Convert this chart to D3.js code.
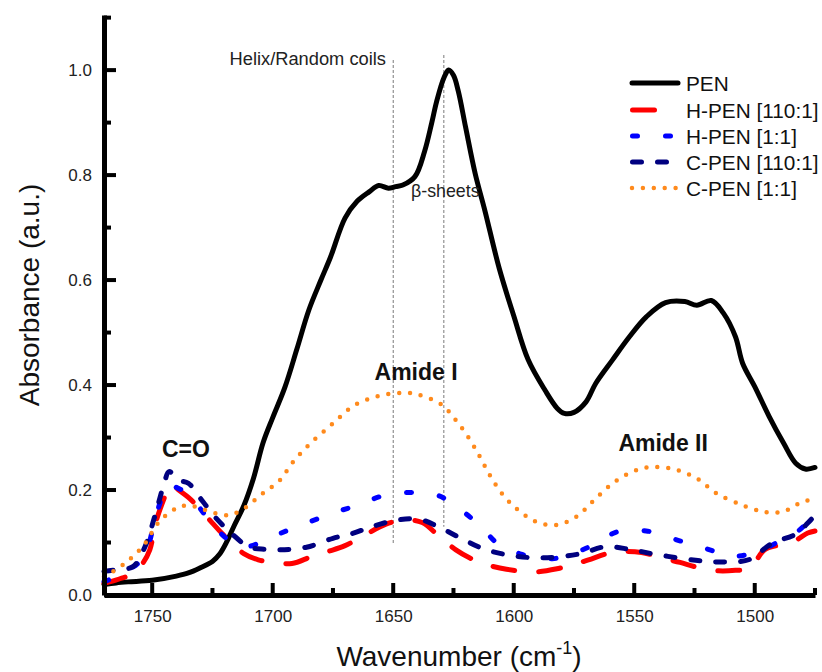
<!DOCTYPE html>
<html>
<head>
<meta charset="utf-8">
<script src="https://cdn.jsdelivr.net/npm/d3@7"></script>
<style>
  html, body { margin: 0; padding: 0; background: #fff; }
  svg { display: block; font-family: Arial, "Liberation Sans", sans-serif; }
</style>
</head>
<body>
<svg id="chart" width="822" height="672"></svg>
<script>
// ---------------- data ----------------
const penWave = [1770,1765,1760,1750,1740,1735,1730,1725,1722,1719,1716,1712,1708,1704,1700,1695,1690,1685,1680,1676,1670,1665,1660,1656,1652,1649,1646,1641,1637,1634,1632,1629,1627,1625,1623,1620,1616,1612,1606,1600,1594,1587,1582,1579,1575,1570,1566,1559,1552,1545,1537,1529,1524,1518,1513,1508,1505,1500,1494,1488,1483,1479,1475];
const penAbs  = [0.020,0.023,0.025,0.028,0.036,0.042,0.052,0.064,0.078,0.102,0.132,0.170,0.222,0.290,0.338,0.395,0.468,0.543,0.600,0.644,0.718,0.750,0.768,0.780,0.775,0.778,0.781,0.797,0.845,0.900,0.940,0.985,1.000,0.990,0.960,0.892,0.803,0.733,0.622,0.532,0.448,0.390,0.356,0.346,0.348,0.368,0.403,0.448,0.492,0.530,0.557,0.559,0.552,0.561,0.537,0.492,0.441,0.397,0.340,0.289,0.251,0.240,0.243];

const hpen110Wave = [1770,1764,1758,1754,1751,1748.6,1745,1742.4,1739,1735,1731,1725,1721,1716,1712,1706,1700,1692,1684,1677,1670,1663,1653,1645,1638,1631,1624,1618,1613,1603,1591,1581,1575,1569,1559,1547,1538,1531,1524,1515,1508,1502,1496,1490,1484,1478,1475];
const hpen110Abs  = [0.022,0.030,0.041,0.060,0.086,0.137,0.185,0.213,0.200,0.186,0.168,0.137,0.117,0.095,0.079,0.067,0.062,0.060,0.073,0.083,0.094,0.111,0.135,0.143,0.138,0.112,0.086,0.070,0.060,0.049,0.044,0.051,0.058,0.067,0.081,0.081,0.070,0.062,0.053,0.046,0.047,0.051,0.086,0.095,0.102,0.118,0.122];

const hpen11Wave = [1770,1765,1760,1756,1752,1749,1746,1743,1740,1736,1731,1726,1721,1716,1711,1705,1697,1686,1675,1665,1655,1645,1638,1631,1625,1618,1612,1608,1602,1597,1590,1584,1577,1570,1564,1558,1551,1545,1539,1533,1528,1522,1516,1511,1504,1497,1492,1488,1482,1477,1475];
const hpen11Abs  = [0.025,0.035,0.048,0.060,0.090,0.140,0.185,0.210,0.205,0.195,0.170,0.140,0.115,0.098,0.092,0.100,0.117,0.137,0.156,0.171,0.188,0.195,0.194,0.189,0.172,0.148,0.123,0.103,0.088,0.078,0.071,0.069,0.076,0.089,0.103,0.119,0.124,0.122,0.116,0.106,0.099,0.091,0.082,0.074,0.076,0.086,0.097,0.108,0.122,0.143,0.150];

const cpen110Wave = [1770,1765,1758,1753,1749,1745,1743,1739,1735,1729,1724,1717,1710,1703,1697,1686,1675,1667,1659,1648,1639,1630,1621,1612,1602,1592,1583,1572,1562,1552,1543,1531,1520,1511,1502,1493,1483,1478,1475];
const cpen110Abs  = [0.045,0.048,0.054,0.092,0.149,0.213,0.235,0.219,0.213,0.178,0.149,0.117,0.092,0.087,0.086,0.091,0.108,0.117,0.130,0.143,0.144,0.127,0.106,0.087,0.076,0.071,0.072,0.079,0.092,0.087,0.079,0.070,0.064,0.063,0.068,0.098,0.116,0.137,0.152];

const cpen11Wave = [1770,1762,1754,1747,1740,1735,1728,1720,1714,1704,1697,1692,1685,1675,1666,1657,1650,1644,1639,1630,1624,1618.5,1614,1610,1605,1599,1591,1583,1574,1566,1558,1549,1542,1533,1524,1516,1505,1497,1493,1488,1480,1475];
const cpen11Abs  = [0.035,0.058,0.092,0.140,0.165,0.171,0.162,0.152,0.159,0.194,0.219,0.251,0.286,0.327,0.362,0.378,0.384,0.385,0.381,0.363,0.333,0.298,0.263,0.229,0.194,0.165,0.140,0.133,0.149,0.184,0.216,0.238,0.244,0.239,0.222,0.194,0.171,0.159,0.157,0.159,0.178,0.182];

const seriesNames = ["PEN", "H-PEN [110:1]", "H-PEN [1:1]", "C-PEN [110:1]", "C-PEN [1:1]"];
const xMajorTicks = [1750, 1700, 1650, 1600, 1550, 1500];
const xMinorTicks = [1725, 1675, 1625, 1575, 1525, 1475];
const yMajorTicks = [0.0, 0.2, 0.4, 0.6, 0.8, 1.0];
const yMinorTicks = [0.1, 0.3, 0.5, 0.7, 0.9, 1.1];
const markerWaves = [1650, 1629];
const bandLabels = ["C=O", "Amide I", "Amide II"];
const bandWaves = [1736, 1640.5, 1538];
const bandAbs = [0.262, 0.409, 0.274];

// ---------------- styles ----------------
const styles = [
  { color: "#000000", dash: null,      width: 5,   cap: "round" },
  { color: "#ff0000", dash: "22,24",   width: 5,   cap: "round" },
  { color: "#0000ff", dash: "5,28",    width: 5,   cap: "round" },
  { color: "#000080", dash: "9,16",    width: 5,   cap: "round" },
  { color: "#ff8a1c", dash: "0,10.9",  width: 4.5, cap: "round" }
];

const svg = d3.select("#chart");
const x = d3.scaleLinear().domain([1770, 1475]).range([104, 815]);
const y = d3.scaleLinear().domain([0, 1.105]).range([595, 15]);

const seriesData = [
  d3.zip(penWave, penAbs),
  d3.zip(hpen110Wave, hpen110Abs),
  d3.zip(hpen11Wave, hpen11Abs),
  d3.zip(cpen110Wave, cpen110Abs),
  d3.zip(cpen11Wave, cpen11Abs)
];

// vertical dotted marker lines
const markerTop = [60, 55];
const markerBottomAbs = [0.099, 0.13];
svg.selectAll("line.marker").data(markerWaves).enter().append("line")
  .attr("class", "marker")
  .attr("x1", d => x(d)).attr("x2", d => x(d))
  .attr("y1", (d, i) => markerTop[i]).attr("y2", (d, i) => y(markerBottomAbs[i]))
  .attr("stroke", "#7a7a7a").attr("stroke-width", 1).attr("stroke-dasharray", "3,2");

// curves
const line = d3.line().x(d => x(d[0])).y(d => y(d[1])).curve(d3.curveCatmullRom.alpha(0.5));
seriesData.forEach((data, i) => {
  const s = styles[i];
  svg.append("path").datum(data)
    .attr("d", line)
    .attr("fill", "none")
    .attr("stroke", s.color)
    .attr("stroke-width", s.width)
    .attr("stroke-linecap", s.cap)
    .attr("stroke-linejoin", "round")
    .attr("stroke-dasharray", s.dash);
});

// axes (labels + domain via d3 axes)
const xAxis = svg.append("g").attr("transform", "translate(0,595)")
  .call(d3.axisBottom(x).tickValues(xMajorTicks).tickSize(0).tickPadding(15).tickFormat(d3.format("d")));
const yAxis = svg.append("g").attr("transform", "translate(104,0)")
  .call(d3.axisLeft(y).tickValues(yMajorTicks).tickSize(0).tickPadding(12).tickFormat(d3.format(".1f")));

[xAxis, yAxis].forEach(g => {
  g.select(".domain").attr("stroke", "#000").attr("stroke-width", 5);
  g.selectAll(".tick text").attr("fill", "#222").attr("font-size", 17)
    .attr("font-family", 'Arial, "Liberation Sans", sans-serif');
});

// inward tick marks drawn from the scales (as filled rects)
const tickG = svg.append("g").attr("fill", "#000");
tickG.selectAll("rect.xmaj").data(xMajorTicks).enter().append("rect")
  .attr("class", "xmaj")
  .attr("x", d => x(d) - 2).attr("y", 583).attr("width", 4).attr("height", 12);
tickG.selectAll("rect.xmin").data(xMinorTicks).enter().append("rect")
  .attr("class", "xmin")
  .attr("x", d => x(d) - 2).attr("y", 588).attr("width", 4).attr("height", 7);
tickG.selectAll("rect.ymaj").data(yMajorTicks).enter().append("rect")
  .attr("class", "ymaj")
  .attr("x", 104).attr("y", d => y(d) - 2).attr("width", 12).attr("height", 4);
tickG.selectAll("rect.ymin").data(yMinorTicks).enter().append("rect")
  .attr("class", "ymin")
  .attr("x", 104).attr("y", d => y(d) - 2).attr("width", 7).attr("height", 4);

// axis titles
svg.append("text")
  .attr("transform", "translate(39,295) rotate(-90)")
  .attr("text-anchor", "middle")
  .attr("font-size", 28)
  .attr("fill", "#111")
  .text("Absorbance (a.u.)");

const xt = svg.append("text")
  .attr("x", 459).attr("y", 666)
  .attr("text-anchor", "middle")
  .attr("font-size", 28)
  .attr("fill", "#111");
xt.append("tspan").text("Wavenumber (cm");
xt.append("tspan").attr("font-size", 18).attr("dy", -12).text("-1");
xt.append("tspan").attr("dy", 12).text(")");

// annotations
svg.append("text").attr("x", 386).attr("y", 65).attr("text-anchor", "end")
  .attr("font-size", 18.3).attr("fill", "#222").text("Helix/Random coils");
svg.append("text").attr("x", 411).attr("y", 197)
  .attr("font-size", 17.8).attr("fill", "#222").text("β-sheets");

svg.selectAll("text.band").data(bandLabels).enter().append("text")
  .attr("class", "band")
  .attr("x", (d, i) => x(bandWaves[i])).attr("y", (d, i) => y(bandAbs[i]))
  .attr("text-anchor", "middle")
  .attr("font-size", 23).attr("font-weight", "bold").attr("fill", "#111")
  .text(d => d);

// legend
const legendRows = [83, 110, 136, 162, 188];
const legend = svg.append("g");
seriesNames.forEach((name, i) => {
  const s = styles[i];
  const x1 = i === 0 ? 632 : (i === 4 ? 632 : 632.5);
  const x2 = i === 0 ? 678 : 677.5;
  legend.append("line")
    .attr("x1", x1).attr("x2", x2)
    .attr("y1", legendRows[i]).attr("y2", legendRows[i])
    .attr("stroke", s.color).attr("stroke-width", s.width)
    .attr("stroke-linecap", s.cap)
    .attr("stroke-dasharray", s.dash);
  legend.append("text")
    .attr("x", 686).attr("y", legendRows[i] + 7.5)
    .attr("font-size", 20.8).attr("fill", "#111")
    .text(name);
});
</script>
</body>
</html>
